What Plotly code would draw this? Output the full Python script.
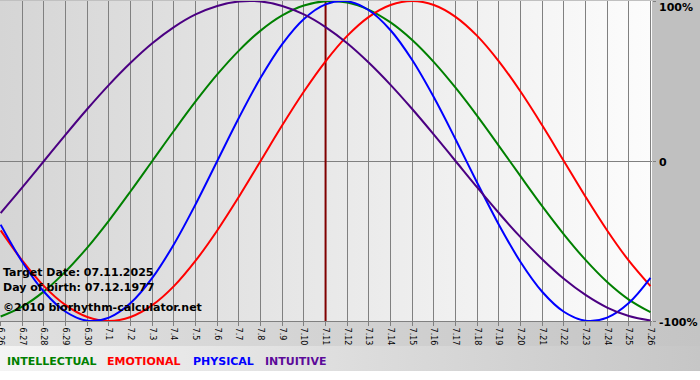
import base64
import plotly.graph_objects as go

# ---------------- data ----------------
days = ["6.26", "6.27", "6.28", "6.29", "6.30", "7.1", "7.2", "7.3", "7.4", "7.5",
        "7.6", "7.7", "7.8", "7.9", "7.10", "7.11", "7.12", "7.13", "7.14", "7.15",
        "7.16", "7.17", "7.18", "7.19", "7.20", "7.21", "7.22", "7.23", "7.24", "7.25",
        "7.26"]

intellectual = [-0.972, -0.910, -0.815, -0.690, -0.541, -0.372, -0.189, 0.000, 0.189, 0.372,
                0.541, 0.690, 0.815, 0.910, 0.972, 0.999, 0.990, 0.945, 0.866, 0.756,
                0.618, 0.458, 0.282, 0.095, -0.095, -0.282, -0.458, -0.618, -0.756, -0.866,
                -0.945]
emotional = [-0.434, -0.623, -0.782, -0.901, -0.975, -1.000, -0.975, -0.901, -0.782, -0.623,
             -0.434, -0.223, 0.000, 0.223, 0.434, 0.623, 0.782, 0.901, 0.975, 1.000,
             0.975, 0.901, 0.782, 0.623, 0.434, 0.223, 0.000, -0.223, -0.434, -0.623,
             -0.782]
physical = [-0.398, -0.631, -0.817, -0.942, -0.998, -0.979, -0.888, -0.731, -0.520, -0.270,
            0.000, 0.270, 0.520, 0.731, 0.888, 0.979, 0.998, 0.942, 0.817, 0.631,
            0.398, 0.136, -0.136, -0.398, -0.631, -0.817, -0.942, -0.998, -0.979, -0.888,
            -0.731]
intuitive = [-0.325, -0.165, 0.000, 0.165, 0.325, 0.476, 0.614, 0.736, 0.837, 0.916,
             0.969, 0.997, 0.997, 0.969, 0.916, 0.837, 0.736, 0.614, 0.476, 0.325,
             0.165, 0.000, -0.165, -0.325, -0.476, -0.614, -0.736, -0.837, -0.916, -0.969,
             -0.997]

target_day = "7.11"
info_lines = ["Target Date: 07.11.2025", "Day of birth: 07.12.1977",
              "\u00a92010 biorhythm-calculator.net"]
y_tick_vals = [1, 0, -1]
y_tick_text = ["100%", "0", "-100%"]
series_names = ["INTELLECTUAL", "EMOTIONAL", "PHYSICAL", "INTUITIVE"]

# ---------------- styles / layout geometry ----------------
colors = {"INTELLECTUAL": "#008000", "EMOTIONAL": "#ff0000",
          "PHYSICAL": "#0000ff", "INTUITIVE": "#4b0082"}
legend_colors = {"INTELLECTUAL": "#008000", "EMOTIONAL": "#ff0000",
                 "PHYSICAL": "#0000ff", "INTUITIVE": "#5c0a99"}
series = {"INTELLECTUAL": intellectual, "EMOTIONAL": emotional,
          "PHYSICAL": physical, "INTUITIVE": intuitive}

W, H = 700, 380
ML, MR, MT, MB = 0, 48, 1, 59
PW, PH = W - ML - MR, H - MT - MB
FONT = "DejaVu Sans"


def px(x):
    return (x - ML) / PW


def py(y):
    return (H - MB - y) / PH


svg = f"""<svg xmlns='http://www.w3.org/2000/svg' width='{W}' height='{H}'>
<defs>
<linearGradient id='p' x1='0' x2='1' y1='0' y2='0'>
<stop offset='0' stop-color='#d5d5d5'/><stop offset='1' stop-color='#fcfcfc'/></linearGradient>
<linearGradient id='b' x1='0' x2='1' y1='0' y2='0'>
<stop offset='0' stop-color='#e0e0e0'/><stop offset='1' stop-color='#c4c4c4'/></linearGradient>
<linearGradient id='l' x1='0' x2='1' y1='0' y2='0'>
<stop offset='0' stop-color='#f4f4f4'/><stop offset='1' stop-color='#c6c6c6'/></linearGradient>
</defs>
<rect x='0' y='0' width='{W}' height='{H}' fill='#ffffff'/>
<rect x='0' y='0' width='{W}' height='371' fill='#c0c0c0'/>
<rect x='0' y='{H - MB}' width='{W}' height='{371 - (H - MB)}' fill='url(#b)'/>
<rect x='0' y='346' width='{W}' height='25' fill='url(#l)'/>
<rect x='0' y='{MT}' width='{PW}' height='{PH}' fill='url(#p)'/>
</svg>"""
uri = "data:image/svg+xml;base64," + base64.b64encode(svg.encode()).decode()

fig = go.Figure()

# target-day marker line
fig.add_trace(go.Scatter(x=[target_day, target_day], y=[y_tick_vals[-1], y_tick_vals[0]],
                         mode="lines", line=dict(color="#800000", width=2),
                         hoverinfo="skip", showlegend=False))

for name in series_names:
    fig.add_trace(go.Scatter(x=days, y=series[name], mode="lines", name=name,
                             line=dict(color=colors[name], width=2, shape="spline",
                                       smoothing=1.0),
                             hoverinfo="skip", showlegend=False))

annotations = []
# right-side percentage labels
for v, t, ypix in zip(y_tick_vals, y_tick_text, [7, 162, 322]):
    annotations.append(dict(text=t, x=px(657), y=py(ypix), xref="paper", yref="paper",
                            xanchor="left", yanchor="middle", showarrow=False,
                            font=dict(family=FONT, size=11, color="#000000",
                                      weight="bold")))
# info text block
for t, ypix in zip(info_lines, [272, 287, 307]):
    annotations.append(dict(text=t, x=px(1), y=py(ypix), xref="paper", yref="paper",
                            xanchor="left", yanchor="middle", showarrow=False,
                            font=dict(family=FONT, size=11, color="#000000",
                                      weight="bold")))
# bottom legend words
for name, xpix in zip(series_names, [5, 105, 191, 263]):
    annotations.append(dict(text=name, x=px(xpix), y=py(361), xref="paper", yref="paper",
                            xanchor="left", yanchor="middle", showarrow=False,
                            font=dict(family=FONT, size=11, color=legend_colors[name],
                                      weight="bold")))

fig.update_layout(
    width=W, height=H,
    margin=dict(l=ML, r=MR, t=MT, b=MB, pad=0, autoexpand=False),
    paper_bgcolor="#ffffff",
    plot_bgcolor="rgba(0,0,0,0)",
    showlegend=False,
    hovermode=False,
    font=dict(family=FONT, color="#000000"),
    images=[dict(source=uri, xref="paper", yref="paper", x=px(0), y=py(0),
                 sizex=W / PW, sizey=H / PH, xanchor="left", yanchor="top",
                 sizing="stretch", layer="below")],
    annotations=annotations,
    xaxis=dict(type="category", categoryorder="array", categoryarray=days,
               range=[-0.03, len(days) - 1 + 0.07],
               tickmode="linear", tick0=0, dtick=1,
               showgrid=True, gridcolor="#808080", gridwidth=1,
               ticks="outside", ticklen=4, tickcolor="#808080",
               showline=True, linecolor="#808080", linewidth=1,
               tickangle=90, tickfont=dict(family=FONT, size=8, color="#000000"),
               ticklabeloverflow="allow", zeroline=False, fixedrange=True,
               automargin=False),
    yaxis=dict(side="right", range=[-1, 1], tickvals=y_tick_vals,
               showticklabels=False, showgrid=False,
               zeroline=True, zerolinecolor="#808080", zerolinewidth=1,
               ticks="outside", ticklen=3, tickcolor="#808080",
               showline=False, fixedrange=True, automargin=False),
)

fig.write_html("out.html", config={"displayModeBar": False},
               post_script="document.body.style.margin='0';"
                           "document.body.style.overflow='hidden';")
